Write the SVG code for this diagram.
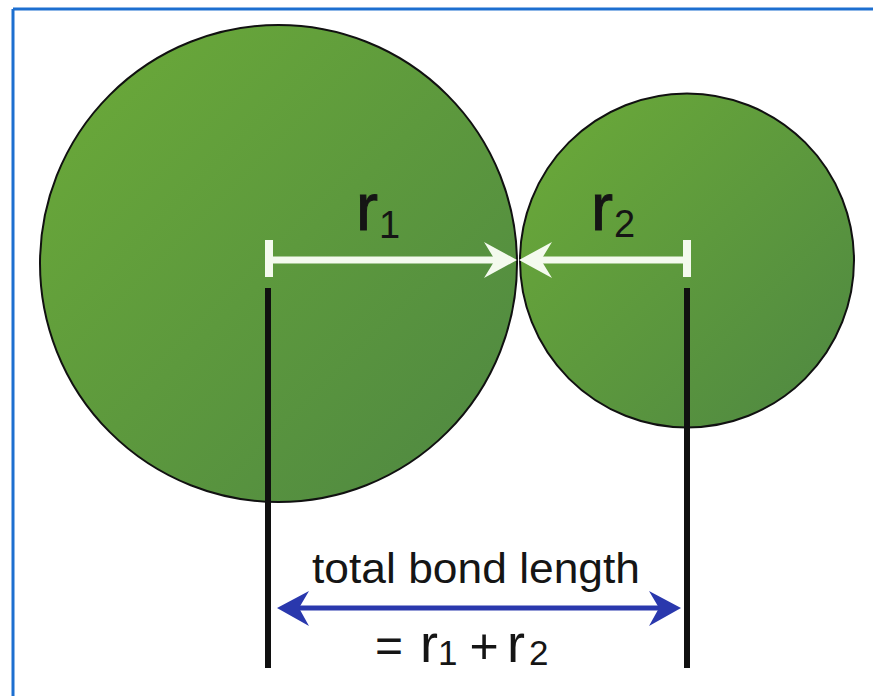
<svg xmlns="http://www.w3.org/2000/svg" width="873" height="696" viewBox="0 0 873 696">
<style>
.atom{stroke:#111;stroke-width:2}
.wl{stroke:#f4faee;stroke-width:7;fill:none}
.wh{fill:#f4faee}
.bl{stroke:#101010;stroke-width:6}
.t{font-family:"Liberation Sans",Arial,sans-serif;fill:#151515}
</style>
<defs>
<linearGradient id="g" x1="0" y1="0" x2="1" y2="1">
<stop offset="0" stop-color="#6cab38"/>
<stop offset="1" stop-color="#4e8742"/>
</linearGradient>
</defs>
<rect width="873" height="696" fill="#fff"/>
<g id="frame" stroke="#1d6fd0" stroke-width="3" fill="none">
<line x1="13" y1="9" x2="873" y2="9"/>
<line x1="13" y1="9" x2="13" y2="696"/>
</g>
<g id="atom1"><circle class="atom" cx="278.5" cy="263.5" r="238.5" fill="url(#g)"/></g>
<g id="atom2"><circle class="atom" cx="687" cy="260.5" r="167" fill="url(#g)"/></g>
<g id="connectors">
<line class="wl" x1="269" y1="260" x2="496" y2="260"/>
<line class="wl" x1="269" y1="240" x2="269" y2="277" style="stroke-width:8"/>
<path class="wh" d="M517,260 L484,242 L495,260 L484,278 Z"/>
<line class="wl" x1="540" y1="260" x2="687" y2="260"/>
<line class="wl" x1="687" y1="240" x2="687" y2="277" style="stroke-width:8"/>
<path class="wh" d="M519,260 L552,242 L541,260 L552,278 Z"/>
<line class="bl" x1="268" y1="288" x2="268" y2="668"/>
<line class="bl" x1="687" y1="288" x2="687" y2="668"/>
<line x1="298" y1="608" x2="660" y2="608" stroke="#2a38ad" stroke-width="5"/>
<path d="M277,608 L309,591 L299,608 L309,626 Z" fill="#2a38ad"/>
<path d="M681,608 L649,591 L659,608 L649,626 Z" fill="#2a38ad"/>
</g>
<g id="labels">
<text class="t" x="356" y="230" font-size="66" stroke="#151515" stroke-width="1">r</text>
<text class="t" x="379" y="238" font-size="38">1</text>
<text class="t" x="591" y="230" font-size="66" stroke="#151515" stroke-width="1">r</text>
<text class="t" x="614" y="237" font-size="38">2</text>
<text class="t" x="312" y="583" font-size="42" textLength="328" lengthAdjust="spacingAndGlyphs">total bond length</text>
<text class="t" x="389" y="662" font-size="48" text-anchor="middle">=</text>
<text class="t" x="420" y="662" font-size="54">r</text>
<text class="t" x="438" y="665" font-size="35">1</text>
<text class="t" x="484" y="663" font-size="50" text-anchor="middle">+</text>
<text class="t" x="507" y="662" font-size="54">r</text>
<text class="t" x="529" y="665" font-size="35">2</text>
</g>
</svg>
